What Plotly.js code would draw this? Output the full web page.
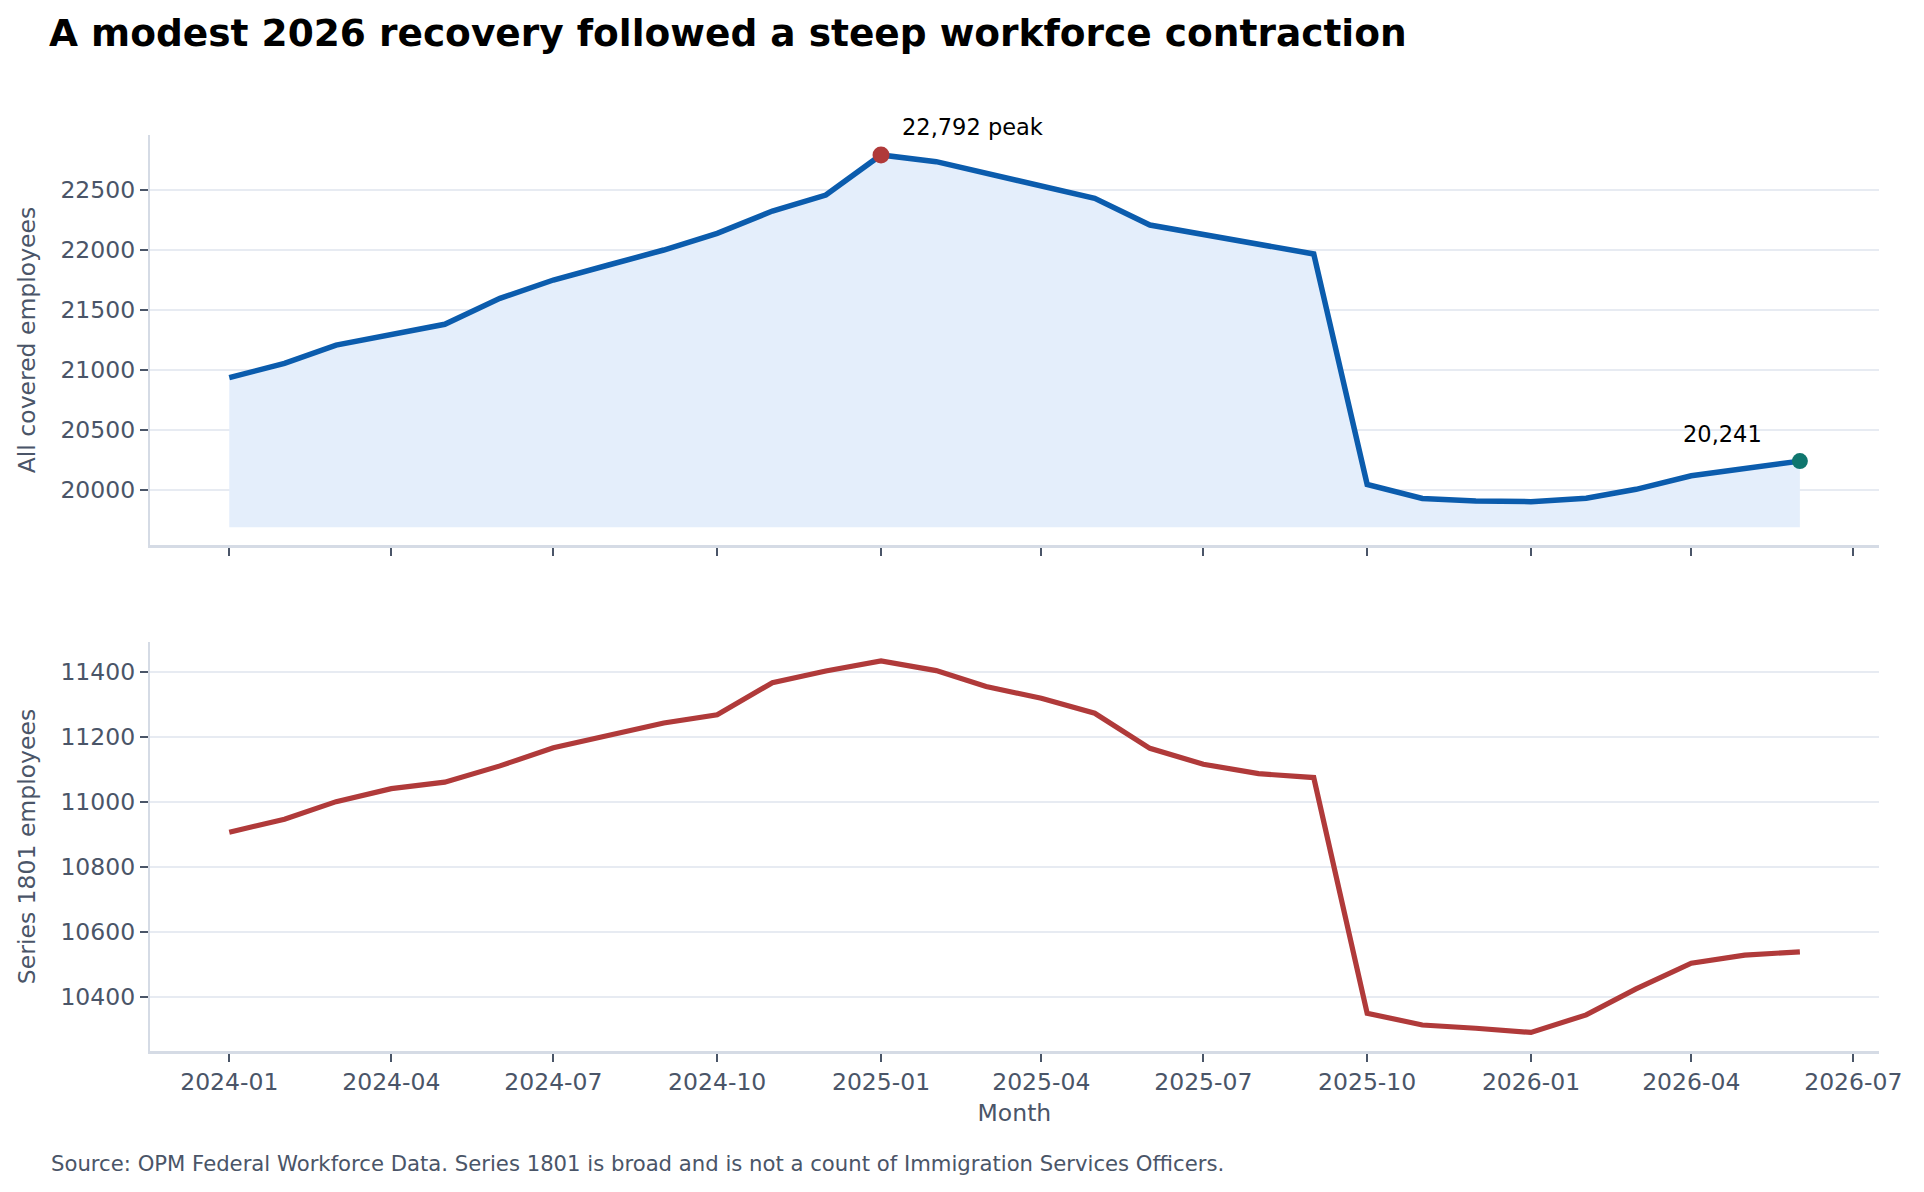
<!DOCTYPE html>
<html>
<head>
<meta charset="utf-8">
<script src="https://cdn.plot.ly/plotly-3.0.1.min.js"></script>
<style>
  html, body { margin: 0; padding: 0; background: #ffffff; }
  #workforce { width: 1924px; height: 1192px; }
</style>
</head>
<body>
<div id="workforce"></div>
<script>
// monthly values
var months = [
  "2024-01-01", "2024-02-01", "2024-03-01", "2024-04-01", "2024-05-01", "2024-06-01",
  "2024-07-01", "2024-08-01", "2024-09-01", "2024-10-01", "2024-11-01", "2024-12-01",
  "2025-01-01", "2025-02-01", "2025-03-01", "2025-04-01", "2025-05-01", "2025-06-01",
  "2025-07-01", "2025-08-01", "2025-09-01", "2025-10-01", "2025-11-01", "2025-12-01",
  "2026-01-01", "2026-02-01", "2026-03-01", "2026-04-01", "2026-05-01", "2026-06-01",
];

var allCovered = [
  20936, 21056, 21208, 21297, 21381, 21597,
  21750, 21875, 22000, 22139, 22325, 22458,
  22792, 22736, 22639, 22533, 22431, 22208,
  22131, 22047, 21967, 20047, 19930, 19908,
  19903, 19931, 20006, 20119, 20181, 20241,
];

var series1801 = [
  10906, 10946, 11000, 11040, 11060, 11110,
  11166, 11206, 11242, 11267, 11366, 11402,
  11433, 11403, 11354, 11318, 11272, 11164,
  11115, 11086, 11074, 10349, 10313, 10303,
  10290, 10344, 10424, 10503, 10528, 10538,
];

// floor of the shaded area under the top line
var fillBase = 19690;

var colors = {
  blue: "#0b5cad",
  fill: "#e4eefb",
  red: "#b03a3a",
  teal: "#0f766e",
  text: "#4a5568",
  spine: "#d5dbe5",
  grid: "#e7ebf2",
};

var cb_workforce = function () {
  let peakVal = Math.max.apply(null, allCovered);
  let peakIdx = allCovered.indexOf(peakVal);
  let lastIdx = allCovered.length - 1;

  let base = {
    x: months,
    y: months.map(function () { return fillBase; }),
    type: "scatter",
    mode: "lines",
    line: { width: 0, color: colors.fill },
    hoverinfo: "skip",
    showlegend: false,
    xaxis: "x",
    yaxis: "y",
  };

  let trace1 = {
    x: months,
    y: allCovered,
    name: "All covered employees",
    type: "scatter",
    mode: "lines",
    line: { color: colors.blue, width: 5.5 },
    fill: "tonexty",
    fillcolor: colors.fill,
    showlegend: false,
    xaxis: "x",
    yaxis: "y",
  };

  let peak = {
    x: [months[peakIdx]],
    y: [peakVal],
    type: "scatter",
    mode: "markers",
    marker: { color: colors.red, size: 17 },
    showlegend: false,
    xaxis: "x",
    yaxis: "y",
  };

  let last = {
    x: [months[lastIdx]],
    y: [allCovered[lastIdx]],
    type: "scatter",
    mode: "markers",
    marker: { color: colors.teal, size: 16 },
    showlegend: false,
    xaxis: "x",
    yaxis: "y",
  };

  let trace2 = {
    x: months,
    y: series1801,
    name: "Series 1801 employees",
    type: "scatter",
    mode: "lines",
    line: { color: colors.red, width: 5.2 },
    showlegend: false,
    xaxis: "x2",
    yaxis: "y2",
  };

  let data = [base, trace1, trace2, peak, last];

  let tickFont = { family: "DejaVu Sans", size: 23.5, color: colors.text };
  let xRange = ["2023-11-17 10:00", "2026-07-15 10:00"];

  let xCommon = {
    type: "date",
    range: xRange,
    tick0: "2024-01-01",
    dtick: "M3",
    tickformat: "%Y-%m",
    ticks: "outside",
    ticklen: 8,
    tickwidth: 1.5,
    tickcolor: colors.text,
    showgrid: false,
    zeroline: false,
    showline: true,
    linecolor: colors.spine,
    linewidth: 2.5,
    tickfont: tickFont,
    domain: [0.0779, 0.9766],
  };

  let yCommon = {
    tickformat: "d",
    ticks: "outside",
    ticklen: 8,
    tickwidth: 1.5,
    tickcolor: colors.text,
    showgrid: true,
    gridcolor: colors.grid,
    gridwidth: 1.5,
    zeroline: false,
    showline: true,
    linecolor: colors.spine,
    linewidth: 2,
    tickfont: tickFont,
  };

  let layout = {
    width: 1924,
    height: 1192,
    margin: { l: 0, r: 0, t: 0, b: 0, pad: 0 },
    paper_bgcolor: "#ffffff",
    plot_bgcolor: "#ffffff",
    font: { family: "DejaVu Sans", color: colors.text },
    title: {
      text: "<b>A modest 2026 recovery followed a steep workforce contraction</b>",
      font: { family: "DejaVu Sans", size: 37.5, color: "#000000" },
      xref: "paper",
      yref: "container",
      x: 0.0255,
      xanchor: "left",
      y: 0.9723,
      yanchor: "middle",
    },
    showlegend: false,

    xaxis: Object.assign({}, xCommon, {
      anchor: "y",
      showticklabels: false,
    }),
    yaxis: Object.assign({}, yCommon, {
      domain: [0.5428, 0.8867],
      range: [19542, 22958],
      dtick: 500,
      tick0: 20000,
      anchor: "x",
      title: {
        text: "All covered employees",
        font: { family: "DejaVu Sans", size: 23.5, color: colors.text },
        standoff: 18,
      },
    }),
    xaxis2: Object.assign({}, xCommon, {
      anchor: "y2",
      matches: "x",
      title: {
        text: "Month",
        font: { family: "DejaVu Sans", size: 23.5, color: colors.text },
        standoff: 10,
      },
    }),
    yaxis2: Object.assign({}, yCommon, {
      domain: [0.1183, 0.4614],
      range: [10233, 11491],
      dtick: 200,
      tick0: 10400,
      anchor: "x2",
      title: {
        text: "Series 1801 employees",
        font: { family: "DejaVu Sans", size: 23.5, color: colors.text },
        standoff: 18,
      },
    }),

    annotations: [
      {
        xref: "x",
        yref: "y",
        x: months[peakIdx],
        y: peakVal,
        text: peakVal.toLocaleString("en-US") + " peak",
        showarrow: false,
        xanchor: "left",
        yanchor: "middle",
        xshift: 19,
        yshift: 28,
        font: { family: "DejaVu Sans", size: 22.5, color: "#000000" },
      },
      {
        xref: "x",
        yref: "y",
        x: months[lastIdx],
        y: allCovered[lastIdx],
        text: allCovered[lastIdx].toLocaleString("en-US"),
        showarrow: false,
        xanchor: "right",
        yanchor: "middle",
        xshift: -36,
        yshift: 27,
        font: { family: "DejaVu Sans", size: 22.5, color: "#000000" },
      },
      {
        xref: "paper",
        yref: "paper",
        x: 0.0255,
        y: 1 - 1163 / 1192,
        xanchor: "left",
        yanchor: "middle",
        text: "Source: OPM Federal Workforce Data. Series 1801 is broad and is not a count of Immigration Services Officers.",
        showarrow: false,
        font: { family: "DejaVu Sans", size: 21.2, color: colors.text },
      },
    ],
  };

  let config = {
    responsive: false,
    displayModeBar: false,
    displaylogo: false,
  };

  Plotly.newPlot("workforce", data, layout, config);
};

if (document.readyState !== "loading") {
  cb_workforce();
} else {
  document.addEventListener("DOMContentLoaded", cb_workforce);
}
</script>
</body>
</html>
